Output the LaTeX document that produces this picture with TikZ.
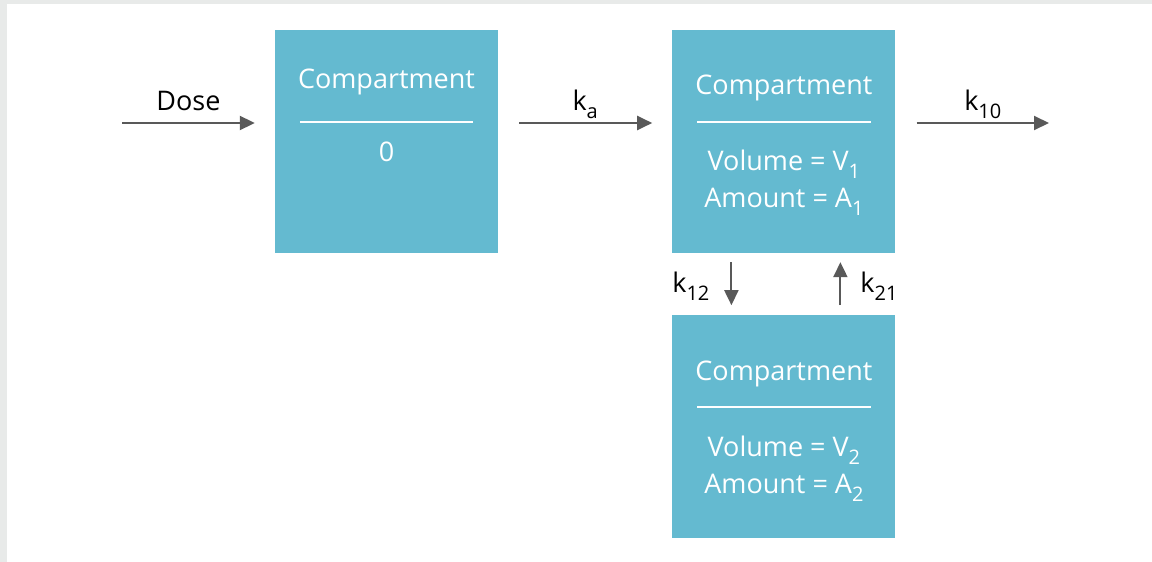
\documentclass[tikz,border=0pt]{standalone}
\usepackage{fontspec}
\setmainfont{Open Sans}
\usetikzlibrary{arrows.meta,positioning}
\definecolor{pkteal}{RGB}{100,186,208}
\definecolor{pkgray}{RGB}{89,89,89}
\definecolor{pkframe}{RGB}{232,234,233}
\newcommand{\rsub}[1]{\raisebox{-8pt}{\fontsize{20}{20}\selectfont #1}}

\begin{document}
\begin{tikzpicture}[
    x=1pt,y=-1pt,
    font=\fontsize{27}{37}\selectfont,
    node distance=174pt,
    cmpbox/.style={fill=pkteal,minimum width=223pt,minimum height=223pt,inner sep=0pt},
    cmptext/.style={text=white,align=center,inner sep=0pt,anchor=base},
    divider/.style={white,line width=2pt},
    rate/.style={-{Triangle[length=15pt,width=14pt]},line width=2pt,pkgray},
    ratelabel/.style={text=black,inner sep=0pt}
  ]
    % frame
    \fill[pkframe] (0,0) rectangle (1152,562);
    \fill[white] (7,4) rectangle (1152,562);

    % compartments
    \node[cmpbox] (depot) at (386.5,141.5) {};
    \node[cmpbox,right=of depot] (central) {};
    \node[cmpbox,below=62pt of central] (periph) {};

    \node[cmptext] (depottitle) at ([yshift=-59pt]depot.north) {Compartment};
    \draw[divider] ([xshift=25pt,yshift=-92pt]depot.north west) -- ([xshift=-25pt,yshift=-92pt]depot.north east);
    \node[cmptext] (depotnum) at ([yshift=-132pt]depot.north) {0};

    \node[cmptext] (centraltitle) at ([yshift=-65pt]central.north) {Compartment};
    \draw[divider] ([xshift=25pt,yshift=-92pt]central.north west) -- ([xshift=-25pt,yshift=-92pt]central.north east);
    \node[cmptext] (centralvol) at ([yshift=-141pt]central.north) {Volume = V\rsub{1}};
    \node[cmptext] (centralamt) at ([yshift=-178pt]central.north) {Amount = A\rsub{1}};

    \node[cmptext] (periphtitle) at ([yshift=-65pt]periph.north) {Compartment};
    \draw[divider] ([xshift=25pt,yshift=-92pt]periph.north west) -- ([xshift=-25pt,yshift=-92pt]periph.north east);
    \node[cmptext] (periphvol) at ([yshift=-141pt]periph.north) {Volume = V\rsub{2}};
    \node[cmptext] (periphamt) at ([yshift=-178pt]periph.north) {Amount = A\rsub{2}};

    % rates
    \coordinate (dosein) at (122,123);
    \coordinate (elimout) at (1049,123);
    \draw[rate,shorten >=20pt] (dosein) -- (dosein -| depot.west)
      node[ratelabel,midway,anchor=base,xshift=-10pt,yshift=13pt] (doselabel) {Dose};
    \draw[rate,shorten <=21pt,shorten >=20pt] (dosein -| depot.east) -- (dosein -| central.west)
      node[ratelabel,midway,anchor=base,yshift=13pt] (kalabel) {k\rsub{a}};
    \draw[rate,shorten <=21pt] (dosein -| central.east) -- (elimout)
      node[ratelabel,midway,anchor=base,xshift=10.5pt,yshift=13pt] (ktenlabel) {k\rsub{10}};
    \draw[rate,shorten <=9pt,shorten >=10pt] ([xshift=-52.5pt]central.south) -- ([xshift=-52.5pt]periph.north)
      node[ratelabel,midway,anchor=base east,xshift=-21pt,yshift=-8.5pt] (kotlabel) {k\rsub{12}};
    \draw[rate,shorten <=10pt,shorten >=9pt] ([xshift=56.5pt]periph.north) -- ([xshift=56.5pt]central.south)
      node[ratelabel,midway,anchor=base west,xshift=19pt,yshift=-8.5pt] (ktolabel) {k\rsub{21}};
  \end{tikzpicture}
\end{document}
